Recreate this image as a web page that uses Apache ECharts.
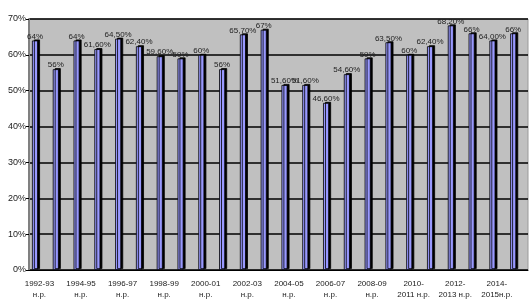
<!DOCTYPE html>
<html>
<head>
<meta charset="utf-8">
<script src="https://cdn.jsdelivr.net/npm/echarts@6/dist/echarts.min.js"></script>
<style>
  html, body { margin: 0; padding: 0; background: #fff; }
  #chart { width: 530px; height: 300px; }
</style>
</head>
<body>
<div id="chart"></div>
<script>
// school years (every other one labelled on the axis)
const years = [
  '1992-93\nн.р.', '1993-94\nн.р.', '1994-95\nн.р.', '1995-96\nн.р.',
  '1996-97\nн.р.', '1997-98\nн.р.', '1998-99\nн.р.', '1999-00\nн.р.',
  '2000-01\nн.р.', '2001-02\nн.р.', '2002-03\nн.р.', '2003-04\nн.р.',
  '2004-05\nн.р.', '2005-06\nн.р.', '2006-07\nн.р.', '2007-08\nн.р.',
  '2008-09\nн.р.', '2009-10\nн.р.', '2010-\n2011 н.р.', '2011-\n2012 н.р.',
  '2012-\n2013 н.р.', '2013-\n2014 н.р.', '2014-\n2015н.р.', '2015-\n2016н.р.'
]
const shares = [64, 56, 64, 61.6, 64.5, 62.4, 59.6, 59, 60, 56, 65.7, 67,
  51.6, 51.6, 46.6, 54.6, 59, 63.5, 60, 62.4, 68.2, 66, 64, 66]
const shareLabels = ['64%', '56%', '64%', '61,60%', '64,50%', '62,40%', '59,60%', '59%',
  '60%', '56%', '65,70%', '67%', '51,60%', '51,60%', '46,60%', '54,60%',
  '59%', '63,50%', '60%', '62,40%', '68,20%', '66%', '64,00%', '66%']
const yTicks = [0, 10, 20, 30, 40, 50, 60, 70]

const chart = echarts.init(document.getElementById('chart'), null, { renderer: 'canvas' })
const font = 'Liberation Sans, Arial, sans-serif'

chart.setOption({
  animation: false,
  textStyle: { fontFamily: font },
  grid: {
    left: 29, right: 2, top: 19, bottom: 30,
    show: true,
    backgroundColor: '#c0c0c0',
    borderColor: '#9a9a9a',
    borderWidth: 1,
  },
  xAxis: {
    type: 'category',
    data: years,
    axisLine: { lineStyle: { color: '#000', width: 1 } },
    axisTick: { interval: 0, length: 3, lineStyle: { color: '#000' } },
    axisLabel: {
      interval: 1,
      fontSize: 8,
      lineHeight: 11,
      margin: 8,
      color: '#1a1a1a',
      fontFamily: font,
    },
  },
  yAxis: {
    type: 'value',
    min: yTicks[0],
    max: yTicks[yTicks.length - 1],
    interval: 10,
    axisLine: { show: true, lineStyle: { color: '#808080', width: 2 } },
    axisTick: { show: true, length: 3, lineStyle: { color: '#000' } },
    axisLabel: {
      formatter: '{value}%',
      fontSize: 9,
      margin: 3,
      color: '#1a1a1a',
      fontFamily: font,
    },
    splitLine: { lineStyle: { color: '#000', width: 1.5 } },
  },
  series: [
    {
      type: 'bar',
      data: shares,
      barWidth: 6,
      barGap: '47%',
      itemStyle: {
        color: '#9999ff',
        borderColor: '#000',
        borderWidth: 0.8,
        shadowColor: '#000',
        shadowBlur: 0,
        shadowOffsetX: 2,
        shadowOffsetY: -1,
      },
      label: {
        show: true,
        position: 'top',
        distance: 0,
        fontSize: 8,
        color: '#222',
        fontFamily: font,
        formatter: (p) => shareLabels[p.dataIndex],
      },
    },
    // empty partner series: pushes the visible bars left of the category centre
    {
      type: 'bar',
      data: [],
      barWidth: 6,
    },
  ],
})
</script>
</body>
</html>
